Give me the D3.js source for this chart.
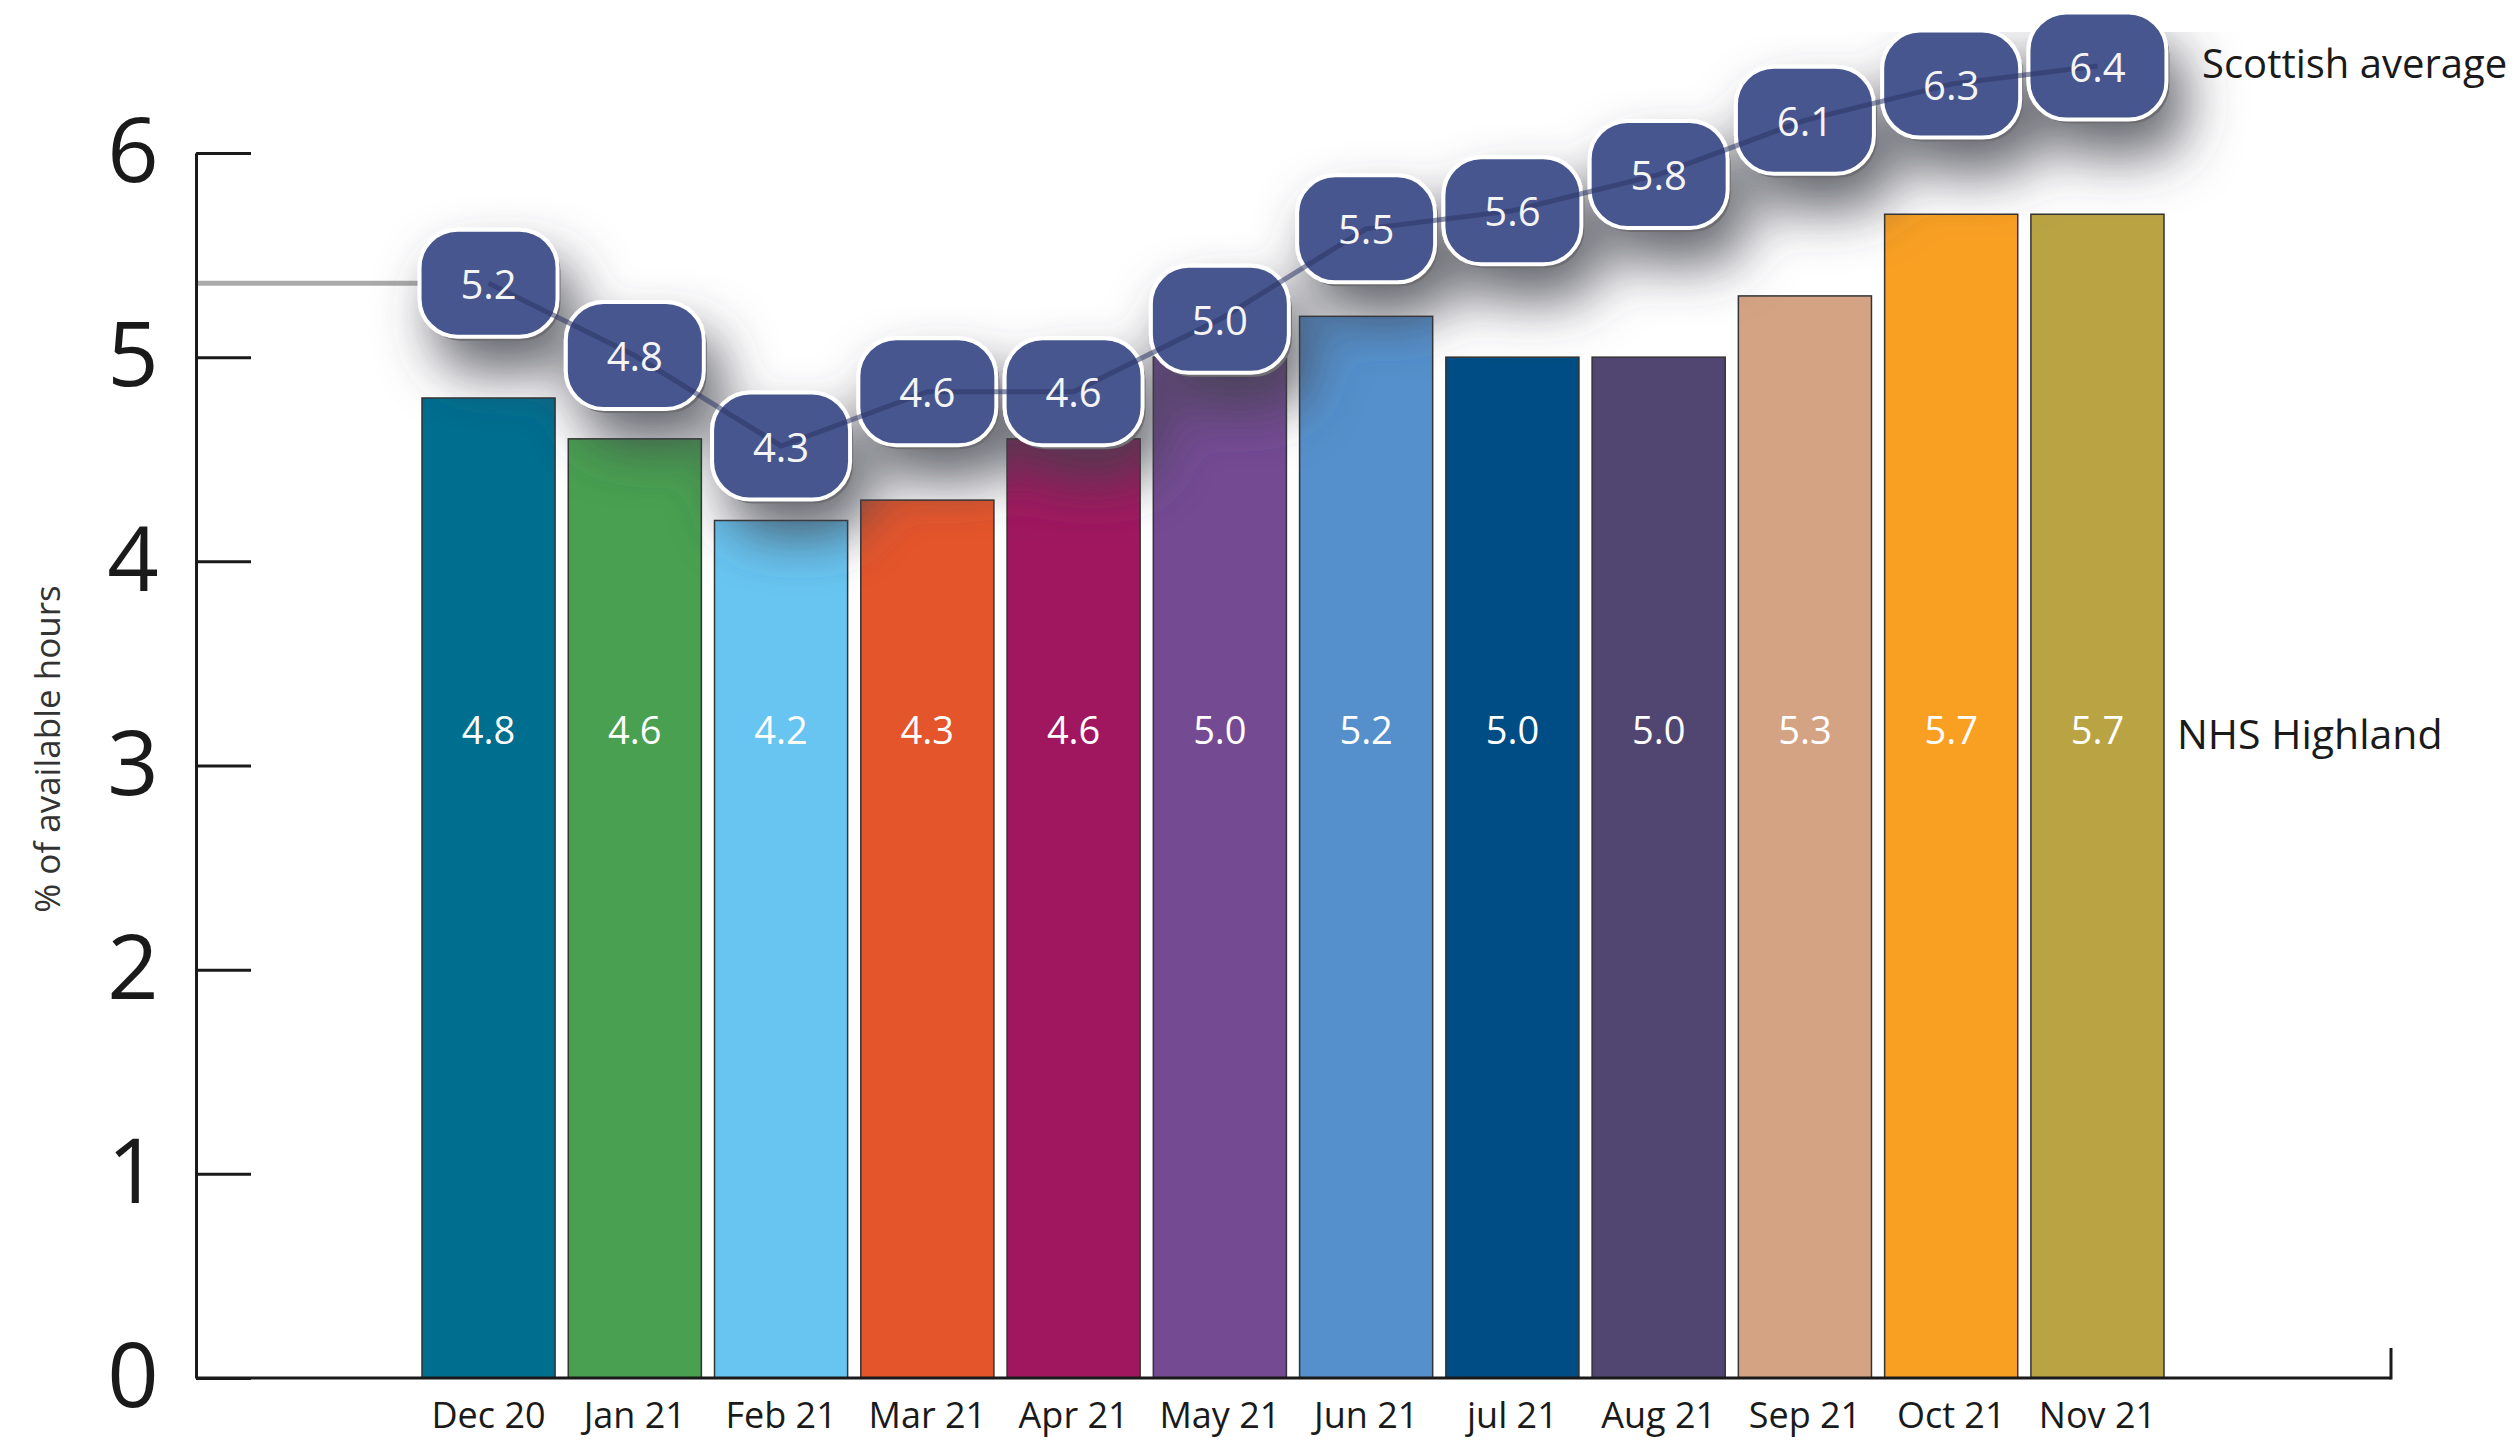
<!DOCTYPE html>
<html>
<head>
<meta charset="utf-8">
<script src="https://cdn.jsdelivr.net/npm/d3@7"></script>
<style>
  body { margin: 0; background: #fff; }
  text { font-family: "Open Sans", "Noto Sans", sans-serif; }
</style>
</head>
<body>
<svg id="chart" width="2515" height="1441"></svg>
<script>
// Data
var months = ["Dec 20", "Jan 21", "Feb 21", "Mar 21", "Apr 21", "May 21", "Jun 21", "jul 21", "Aug 21", "Sep 21", "Oct 21", "Nov 21"];
var highland = [4.8, 4.6, 4.2, 4.3, 4.6, 5.0, 5.2, 5.0, 5.0, 5.3, 5.7, 5.7];
var scottish = [5.2, 4.8, 4.3, 4.6, 4.6, 5.0, 5.5, 5.6, 5.8, 6.1, 6.3, 6.4];
var barColours = ["#006e8f", "#48a050", "#68c5f2", "#e5552b", "#a0175f", "#744a93", "#5590cc", "#004d85", "#514672", "#d4a383", "#f9a023", "#b9a343"];
var yTicks = [0, 1, 2, 3, 4, 5, 6];

var svg = d3.select("#chart");
var axisX = 196, baseY = 1378, axisEnd = 2391;

// Scales
var x = d3.scaleBand().domain(months).range([422, 2164]).paddingInner(0.09).paddingOuter(0);
var y = d3.scaleLinear().domain([0, 6]).range([baseY, 153]);
// the average badges sit on their own loose scale above the bars
var yAvg = d3.scaleLinear().domain([4.3, 6.4]).range([446, 66]);
var bw = x.bandwidth();
var fmt = d3.format(".1f");

// Soft drop shadow for the badges
var defs = svg.append("defs");
var shadow = defs.append("filter")
    .attr("id", "badgeShadow")
    .attr("filterUnits", "userSpaceOnUse")
    .attr("x", 0).attr("y", 0).attr("width", 2515).attr("height", 1441);
shadow.append("feGaussianBlur").attr("in", "SourceAlpha").attr("stdDeviation", 27).attr("result", "blur");
shadow.append("feOffset").attr("in", "blur").attr("dx", 16).attr("dy", 32).attr("result", "off");
shadow.append("feFlood").attr("flood-color", "#40414c").attr("flood-opacity", 0.8).attr("result", "col");
shadow.append("feComposite").attr("in", "col").attr("in2", "off").attr("operator", "in").attr("result", "sh");
var merge = shadow.append("feMerge");
merge.append("feMergeNode").attr("in", "sh");
merge.append("feMergeNode").attr("in", "SourceGraphic");

// Bars (NHS Highland)
svg.append("g").selectAll("rect")
    .data(highland)
    .enter().append("rect")
    .attr("x", (d, i) => x(months[i]))
    .attr("y", d => y(d))
    .attr("width", bw)
    .attr("height", d => y(0) - y(d))
    .attr("fill", (d, i) => barColours[i])
    .attr("stroke", "#333")
    .attr("stroke-width", 1.5);

svg.append("g").selectAll("text")
    .data(highland)
    .enter().append("text")
    .attr("x", (d, i) => x(months[i]) + bw / 2)
    .attr("y", y(3.18))
    .attr("text-anchor", "middle")
    .attr("dominant-baseline", "central")
    .attr("fill", "#fff")
    .style("font-size", "38px")
    .text(d => fmt(d));

// Lead-in line from the axis to the first badge
svg.append("line")
    .attr("x1", axisX).attr("x2", x(months[0]))
    .attr("y1", yAvg(scottish[0])).attr("y2", yAvg(scottish[0]))
    .attr("stroke", "#aaa")
    .attr("stroke-width", 5);

// Badges (Scottish average)
var badges = svg.append("g").attr("filter", "url(#badgeShadow)");
var bwB = 138, bhB = 107;
badges.selectAll("rect.back")
    .data(scottish)
    .enter().append("rect")
    .attr("class", "back")
    .attr("x", (d, i) => x(months[i]) + bw / 2 - bwB / 2 + 3)
    .attr("y", d => yAvg(d) - bhB / 2 + 4)
    .attr("width", bwB).attr("height", bhB)
    .attr("rx", 38).attr("ry", 38)
    .attr("fill", "#6e6e72");
badges.selectAll("rect.face")
    .data(scottish)
    .enter().append("rect")
    .attr("class", "face")
    .attr("x", (d, i) => x(months[i]) + bw / 2 - bwB / 2)
    .attr("y", d => yAvg(d) - bhB / 2)
    .attr("width", bwB).attr("height", bhB)
    .attr("rx", 38).attr("ry", 38)
    .attr("fill", "#46568f")
    .attr("stroke", "#fff")
    .attr("stroke-width", 4);

// Trend line through the badges
var line = d3.line()
    .x((d, i) => x(months[i]) + bw / 2)
    .y(d => yAvg(d));
svg.append("path")
    .datum(scottish)
    .attr("d", line)
    .attr("fill", "none")
    .attr("stroke", "#2b3566")
    .attr("stroke-opacity", 0.55)
    .attr("stroke-width", 5);

svg.append("g").selectAll("text")
    .data(scottish)
    .enter().append("text")
    .attr("x", (d, i) => x(months[i]) + bw / 2)
    .attr("y", d => yAvg(d))
    .attr("text-anchor", "middle")
    .attr("dominant-baseline", "central")
    .attr("fill", "#f4f4f4")
    .style("font-size", "40px")
    .text(d => fmt(d));

// Y axis: ticks point inward, big labels on the left
var yAxis = d3.axisLeft(y).tickValues(yTicks).tickSize(-55).tickSizeOuter(0).tickPadding(0).tickFormat(d3.format("d"));
svg.append("g")
    .attr("transform", "translate(" + axisX + ",0)")
    .call(yAxis)
    .call(g => g.select(".domain").attr("stroke", "#1a1a1a").attr("stroke-width", 3))
    .call(g => g.selectAll(".tick line").attr("stroke", "#1a1a1a").attr("stroke-width", 3))
    .call(g => g.selectAll(".tick text")
        .attr("x", -63)
        .attr("text-anchor", "middle")
        .attr("fill", "#1a1a1a")
        .style("font-size", "90px")
        .style("font-family", "'Open Sans', sans-serif"));

// X axis: baseline and month labels
svg.append("line")
    .attr("x1", axisX).attr("x2", axisEnd)
    .attr("y1", baseY).attr("y2", baseY)
    .attr("stroke", "#1a1a1a").attr("stroke-width", 3);
svg.append("line")
    .attr("x1", axisEnd).attr("x2", axisEnd)
    .attr("y1", baseY - 30).attr("y2", baseY + 1.5)
    .attr("stroke", "#1a1a1a").attr("stroke-width", 3);

svg.append("g")
    .attr("transform", "translate(0," + baseY + ")")
    .call(d3.axisBottom(x).tickSize(0).tickPadding(24))
    .call(g => g.select(".domain").remove())
    .call(g => g.selectAll(".tick text")
        .attr("fill", "#1a1a1a")
        .style("font-size", "36px")
        .style("font-family", "'Open Sans', sans-serif"));

// Series labels
svg.append("text")
    .attr("x", 2202).attr("y", 78)
    .attr("fill", "#1a1a1a")
    .style("font-size", "40px")
    .text("Scottish average");
svg.append("text")
    .attr("x", 2177).attr("y", 749)
    .attr("fill", "#1a1a1a")
    .style("font-size", "41px")
    .text("NHS Highland");

// Y axis title
svg.append("text")
    .attr("transform", "translate(60,749) rotate(-90)")
    .attr("text-anchor", "middle")
    .attr("fill", "#333")
    .style("font-size", "35px")
    .text("% of available hours");
</script>
</body>
</html>
